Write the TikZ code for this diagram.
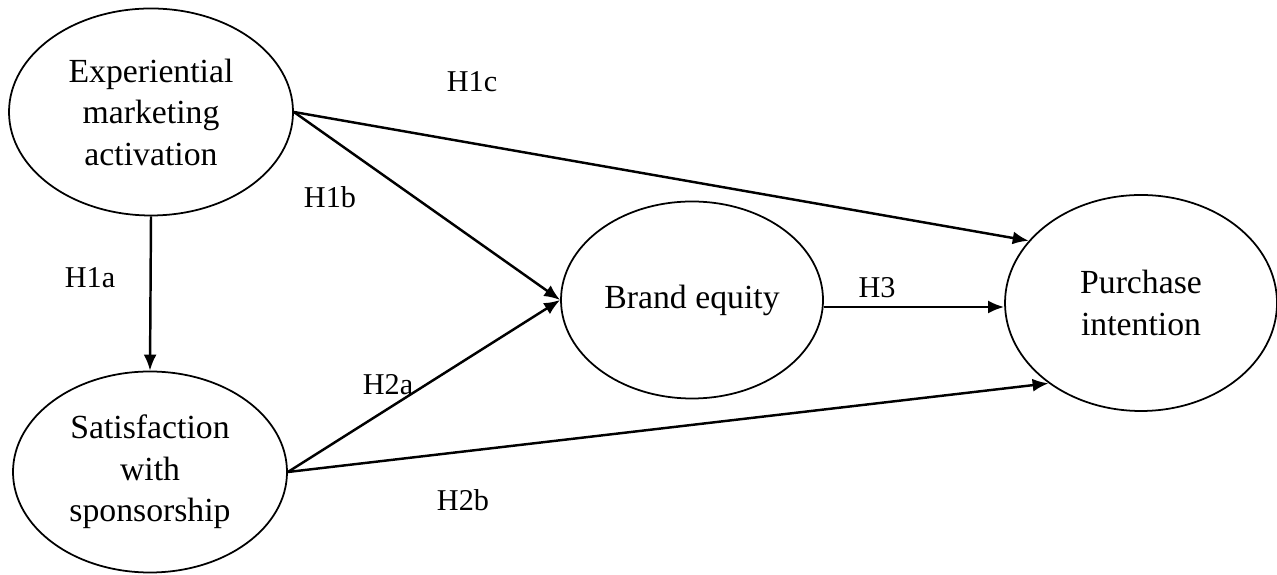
\documentclass[tikz,border=0pt]{standalone}
\usepackage{fontspec}
\setmainfont{Liberation Serif}
\usetikzlibrary{arrows.meta,calc,positioning,shapes.geometric}
\tikzset{>={Latex[length=1.6mm,width=1.3mm]}}

\begin{document}
\begin{tikzpicture}[every node/.style={font=\fontsize{8.6}{11}\selectfont}]
		\useasboundingbox (0,0) rectangle (12.77,5.75);
		\tikzset{construct/.style={draw,ellipse,line width=0.5pt,align=center,inner sep=0pt,font=\fontsize{9.6}{11.8}\selectfont},
			path/.style={->,line width=0.7pt}}
		\node[construct,minimum width=2.84cm,minimum height=2.07cm] (ema) at (1.51,4.63) {Experiential\\marketing\\activation};
		\node[construct,minimum width=2.74cm,minimum height=2.01cm] (sws) at (1.50,1.03) {Satisfaction\\with\\sponsorship};
		\node[construct,minimum width=2.62cm,minimum height=1.97cm] (be) at (6.92,2.75) {Brand equity};
		\node[construct,minimum width=2.72cm,minimum height=2.16cm] (pi) at (11.41,2.72) {Purchase\\intention};
		
		% hypothesised paths
		\draw[path] (ema.south) -- (sws.north);
		\draw[path] (ema.east) -- (be.west);
		\draw[path] (ema.east) -- (pi.151);
		\draw[path] (sws.east) -- (be.west);
		\draw[path] (sws.east) -- (pi.221);
		\coordinate (bestart) at ($(be.east)+(0,-0.07)$);
		\draw[path] (bestart) -- (bestart -| pi.west);
		
		% labels
		\node (h1a) at (0.90,2.97) {H1a};
		\node (h1b) at (3.30,3.78) {H1b};
		\node (h1c) at (4.72,4.93) {H1c};
		\node (h2a) at (3.88,1.90) {H2a};
		\node (h2b) at (4.63,0.75) {H2b};
		\node (h3) at (8.77,2.87) {H3};
	\end{tikzpicture}
\end{document}
